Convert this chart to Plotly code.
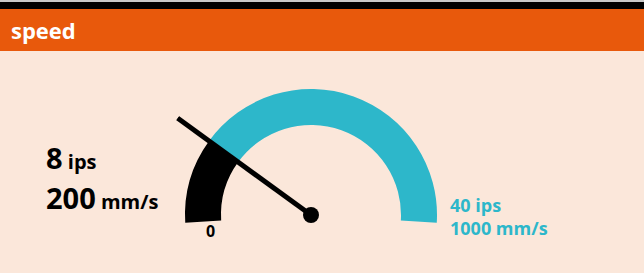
import math
import plotly.graph_objects as go

# ---- data ----
gauge_min = 0
gauge_max = 40
value_ips = 8
value_mms = 200
max_ips = 40
max_mms = 1000
min_label = "0"
title = "speed"

# ---- style ----
W, H = 644, 273
BG = "#FBE7DA"
ORANGE = "#E8590C"
CYAN = "#2DB7CA"
BLACK = "#000000"
FONT = "Open Sans"

START_ANG, END_ANG = 180.0, 0.0   # angle for gauge_min / gauge_max
OVERSHOOT = 3.5                   # arc extends slightly below horizontal
INNER = 90 / 126                  # inner radius relative to outer
NEEDLE = 1.31                     # needle length relative to outer radius


def ang(v):
    return START_ANG + (v - gauge_min) / (gauge_max - gauge_min) * (END_ANG - START_ANG)


a0 = START_ANG + OVERSHOOT
av = ang(value_ips)
a1 = END_ANG - OVERSHOOT

fig = go.Figure()
fig.add_trace(go.Barpolar(
    r=[1 - INNER], base=[INNER], theta=[(a0 + av) / 2], width=[a0 - av],
    marker=dict(color=BLACK, line=dict(width=0)), hoverinfo="skip"))
fig.add_trace(go.Barpolar(
    r=[1 - INNER], base=[INNER], theta=[(av + a1) / 2], width=[av - a1],
    marker=dict(color=CYAN, line=dict(width=0)), hoverinfo="skip"))
fig.add_trace(go.Scatterpolar(
    r=[0, NEEDLE], theta=[av, av], mode="lines",
    line=dict(color=BLACK, width=5), hoverinfo="skip", cliponaxis=False))
fig.add_trace(go.Scatterpolar(
    r=[0], theta=[av], mode="markers",
    marker=dict(color=BLACK, size=16), hoverinfo="skip", cliponaxis=False))

# polar placement: centre (311, 215) px, outer radius 126 px
cx, cy, R = 311, 215, 126 * NEEDLE
bottom_ext = R * math.sin(math.radians(4))
dom_x = [(cx - R) / W, (cx + R) / W]
dom_y = [1 - (cy + bottom_ext) / H, 1 - (cy - R) / H]

fig.update_layout(
    width=W, height=H,
    margin=dict(l=0, r=0, t=0, b=0),
    paper_bgcolor=BG, plot_bgcolor=BG,
    showlegend=False,
    polar=dict(
        domain=dict(x=dom_x, y=dom_y),
        sector=[-4, 184],
        bgcolor="rgba(0,0,0,0)",
        bargap=0,
        radialaxis=dict(visible=False, range=[0, NEEDLE], showgrid=False),
        angularaxis=dict(visible=False, showgrid=False, rotation=0,
                         direction="counterclockwise"),
    ),
    shapes=[
        dict(type="rect", xref="paper", yref="paper", x0=0, x1=1,
             y0=1 - 2 / H, y1=1, fillcolor="#C8C8C8", line=dict(width=0), layer="below"),
        dict(type="rect", xref="paper", yref="paper", x0=0, x1=1,
             y0=1 - 9 / H, y1=1 - 2 / H, fillcolor=BLACK, line=dict(width=0), layer="below"),
        dict(type="rect", xref="paper", yref="paper", x0=0, x1=1,
             y0=1 - 51 / H, y1=1 - 9 / H, fillcolor=ORANGE, line=dict(width=0), layer="below"),
    ],
)


def ann(text, x, y, size, color, xanchor="left"):
    fig.add_annotation(text=text, x=x / W, y=1 - y / H, xref="paper", yref="paper",
                       xanchor=xanchor, yanchor="middle", showarrow=False,
                       font=dict(family=FONT, size=size, color=color, weight="bold"))


ann(title, 9, 30, 22, "white")
ann(f"{value_ips}<span style='font-size:20px'> ips</span>", 44, 157, 29, BLACK)
ann(f"{value_mms}<span style='font-size:20px'> mm/s</span>", 44, 197, 29, BLACK)
ann(f"{max_ips}<span style='font-size:18px'> ips</span>", 448, 205, 18, CYAN)
ann(f"{max_mms}<span style='font-size:18px'> mm/s</span>", 448, 228, 18, CYAN)
ann(min_label, 210, 231, 16, BLACK, xanchor="center")

fig.write_html(
    "out.html",
    config={"displayModeBar": False, "staticPlot": True},
    post_script="document.body.style.margin='0';document.body.style.padding='0';"
                "document.documentElement.style.overflow='hidden';",
)
